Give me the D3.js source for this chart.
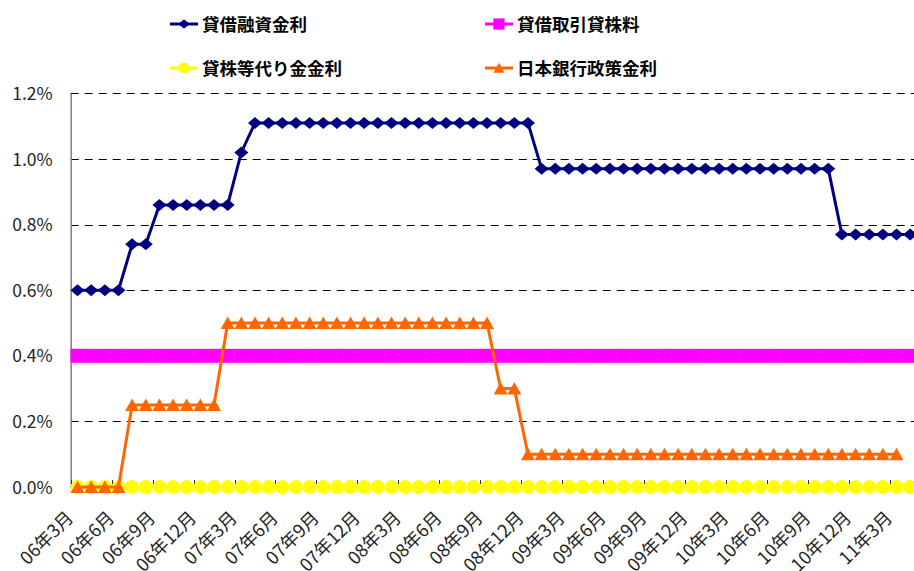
<!DOCTYPE html>
<html>
<head>
<meta charset="utf-8">
<script src="https://d3js.org/d3.v7.min.js"></script>
<style>
  body { margin: 0; background: #fff; }
  svg { display: block; }
  text { font-family: "Noto Sans CJK JP", "Noto Sans", sans-serif; }
</style>
</head>
<body>
<script>
// 月別カテゴリ
const months = [
  "06年3月","06年4月","06年5月","06年6月","06年7月","06年8月","06年9月","06年10月","06年11月","06年12月",
  "07年1月","07年2月","07年3月","07年4月","07年5月","07年6月","07年7月","07年8月","07年9月","07年10月","07年11月","07年12月",
  "08年1月","08年2月","08年3月","08年4月","08年5月","08年6月","08年7月","08年8月","08年9月","08年10月","08年11月","08年12月",
  "09年1月","09年2月","09年3月","09年4月","09年5月","09年6月","09年7月","09年8月","09年9月","09年10月","09年11月","09年12月",
  "10年1月","10年2月","10年3月","10年4月","10年5月","10年6月","10年7月","10年8月","10年9月","10年10月","10年11月","10年12月",
  "11年1月","11年2月","11年3月","11年4月"
];

// 貸借融資金利 (%)
const lendingRate = [
  0.60,0.60,0.60,0.60,0.74,0.74,0.86,0.86,0.86,0.86,
  0.86,0.86,1.02,1.11,1.11,1.11,1.11,1.11,1.11,1.11,1.11,1.11,
  1.11,1.11,1.11,1.11,1.11,1.11,1.11,1.11,1.11,1.11,1.11,1.11,
  0.97,0.97,0.97,0.97,0.97,0.97,0.97,0.97,0.97,0.97,0.97,0.97,
  0.97,0.97,0.97,0.97,0.97,0.97,0.97,0.97,0.97,0.97,0.77,0.77,
  0.77,0.77,0.77,0.77
];

// 貸借取引貸株料 (%)
const stockLoanFee = [
  0.40,0.40,0.40,0.40,0.40,0.40,0.40,0.40,0.40,0.40,
  0.40,0.40,0.40,0.40,0.40,0.40,0.40,0.40,0.40,0.40,0.40,0.40,
  0.40,0.40,0.40,0.40,0.40,0.40,0.40,0.40,0.40,0.40,0.40,0.40,
  0.40,0.40,0.40,0.40,0.40,0.40,0.40,0.40,0.40,0.40,0.40,0.40,
  0.40,0.40,0.40,0.40,0.40,0.40,0.40,0.40,0.40,0.40,0.40,0.40,
  0.40,0.40,0.40,0.40
];

// 貸株等代り金金利 (%)
const collateralRate = [
  0,0,0,0,0,0,0,0,0,0,
  0,0,0,0,0,0,0,0,0,0,0,0,
  0,0,0,0,0,0,0,0,0,0,0,0,
  0,0,0,0,0,0,0,0,0,0,0,0,
  0,0,0,0,0,0,0,0,0,0,0,0,
  0,0,0,0
];

// 日本銀行政策金利 (%)
const bojRate = [
  0,0,0,0,0.25,0.25,0.25,0.25,0.25,0.25,
  0.25,0.50,0.50,0.50,0.50,0.50,0.50,0.50,0.50,0.50,0.50,0.50,
  0.50,0.50,0.50,0.50,0.50,0.50,0.50,0.50,0.50,0.30,0.30,0.10,
  0.10,0.10,0.10,0.10,0.10,0.10,0.10,0.10,0.10,0.10,0.10,0.10,
  0.10,0.10,0.10,0.10,0.10,0.10,0.10,0.10,0.10,0.10,0.10,0.10,
  0.10,0.10,0.10,null
];

const yTicks = [0, 0.2, 0.4, 0.6, 0.8, 1.0, 1.2];

const width = 914, height = 571;
const plotLeft = 70.7, plotRight = 917, plotTop = 93.4, plotBottom = 487;

const svg = d3.select("body").append("svg")
    .attr("width", width)
    .attr("height", height);

const x = d3.scaleBand().domain(months).range([plotLeft, plotRight]);
const y = d3.scaleLinear().domain([0, 1.2]).range([plotBottom, plotTop]);
const cx = (i) => x(months[i]) + x.bandwidth() / 2;

// グリッド線
svg.append("g")
  .selectAll("line")
  .data(yTicks.filter(d => d > 0))
  .enter().append("line")
    .attr("x1", plotLeft).attr("x2", width)
    .attr("y1", d => Math.round(y(d)) + 0.5).attr("y2", d => Math.round(y(d)) + 0.5)
    .attr("stroke", "#000")
    .attr("stroke-width", 1)
    .attr("stroke-dasharray", "8,6");

// Y軸
const yAxis = svg.append("g")
    .attr("transform", `translate(${plotLeft},0)`)
    .call(d3.axisLeft(y).tickValues(yTicks).tickSize(0).tickPadding(18)
      .tickFormat(d => d.toFixed(1) + "%"));
yAxis.select(".domain").attr("stroke", "#808080").attr("stroke-width", 1.5);
yAxis.selectAll("text")
    .attr("font-size", 17.5)
    .attr("fill", "#222")
    .attr("dy", "0.35em");

// X軸
svg.append("line")
    .attr("x1", plotLeft).attr("x2", width)
    .attr("y1", plotBottom).attr("y2", plotBottom)
    .attr("stroke", "#808080");

const series = [
  { name: "貸借融資金利", values: lendingRate, color: "#000080", marker: "diamond" },
  { name: "貸借取引貸株料", values: stockLoanFee, color: "#FF00FF", marker: "square" },
  { name: "貸株等代り金金利", values: collateralRate, color: "#FFFF00", marker: "circle" },
  { name: "日本銀行政策金利", values: bojRate, color: "#FF6600", marker: "triangle" }
];

const markerPath = {
  diamond: (s) => `M0,${-6 * s}L${7 * s},0L0,${6 * s}L${-7 * s},0Z`,
  square: (s) => `M${-7 * s},${-7 * s}h${14 * s}v${14 * s}h${-14 * s}Z`,
  circle: (s) => `M${-7 * s},0a${7 * s},${7 * s} 0 1,0 ${14 * s},0a${7 * s},${7 * s} 0 1,0 ${-14 * s},0Z`,
  triangle: (s) => `M0,${-6.5 * s}L${7 * s},${6 * s}L${-7 * s},${6 * s}Z`
};

const line = d3.line()
    .x(d => cx(d.i))
    .y(d => y(d.v));

series.forEach(s => {
  const pts = s.values.map((v, i) => ({ i, v })).filter(d => d.v !== null);
  const g = svg.append("g");
  g.append("path")
      .datum(pts)
      .attr("fill", "none")
      .attr("stroke", s.color)
      .attr("stroke-width", 3)
      .attr("d", line);
  g.selectAll("path.m")
    .data(pts)
    .enter().append("path")
      .attr("class", "m")
      .attr("transform", d => `translate(${cx(d.i)},${y(d.v)})`)
      .attr("d", markerPath[s.marker](1))
      .attr("fill", s.color);
});

// 目盛り (3か月ごと)
svg.append("g")
  .selectAll("line")
  .data(months.filter((m, i) => i % 3 === 0))
  .enter().append("line")
    .attr("x1", d => Math.round(x(d)) + 0.5).attr("x2", d => Math.round(x(d)) + 0.5)
    .attr("y1", plotBottom - 7).attr("y2", plotBottom - 3)
    .attr("stroke", "#333");

// X軸ラベル
svg.append("g")
  .selectAll("text")
  .data(months.map((m, i) => ({ m, i })).filter(d => d.i % 3 === 0 && d.i <= 60))
  .enter().append("text")
    .attr("transform", d => `translate(${cx(d.i) - 3},519) rotate(-45)`)
    .attr("text-anchor", "end")
    .attr("font-size", 18)
    .attr("fill", "#222")
    .text(d => d.m);

// 凡例
const legendPos = [
  { x: 170, y: 24 }, { x: 485, y: 24 },
  { x: 170, y: 68 }, { x: 485, y: 68 }
];
series.forEach((s, k) => {
  const p = legendPos[k];
  const g = svg.append("g").attr("transform", `translate(${p.x},${p.y})`);
  g.append("line")
      .attr("x1", 0).attr("x2", 28)
      .attr("stroke", s.color)
      .attr("stroke-width", 3);
  g.append("path")
      .attr("transform", "translate(14,0)")
      .attr("d", markerPath[s.marker](0.8))
      .attr("fill", s.color);
  g.append("text")
      .attr("x", 32)
      .attr("y", 6.5)
      .attr("font-size", 17.5)
      .attr("font-weight", "bold")
      .attr("fill", "#000")
      .text(s.name);
});
</script>
</body>
</html>
